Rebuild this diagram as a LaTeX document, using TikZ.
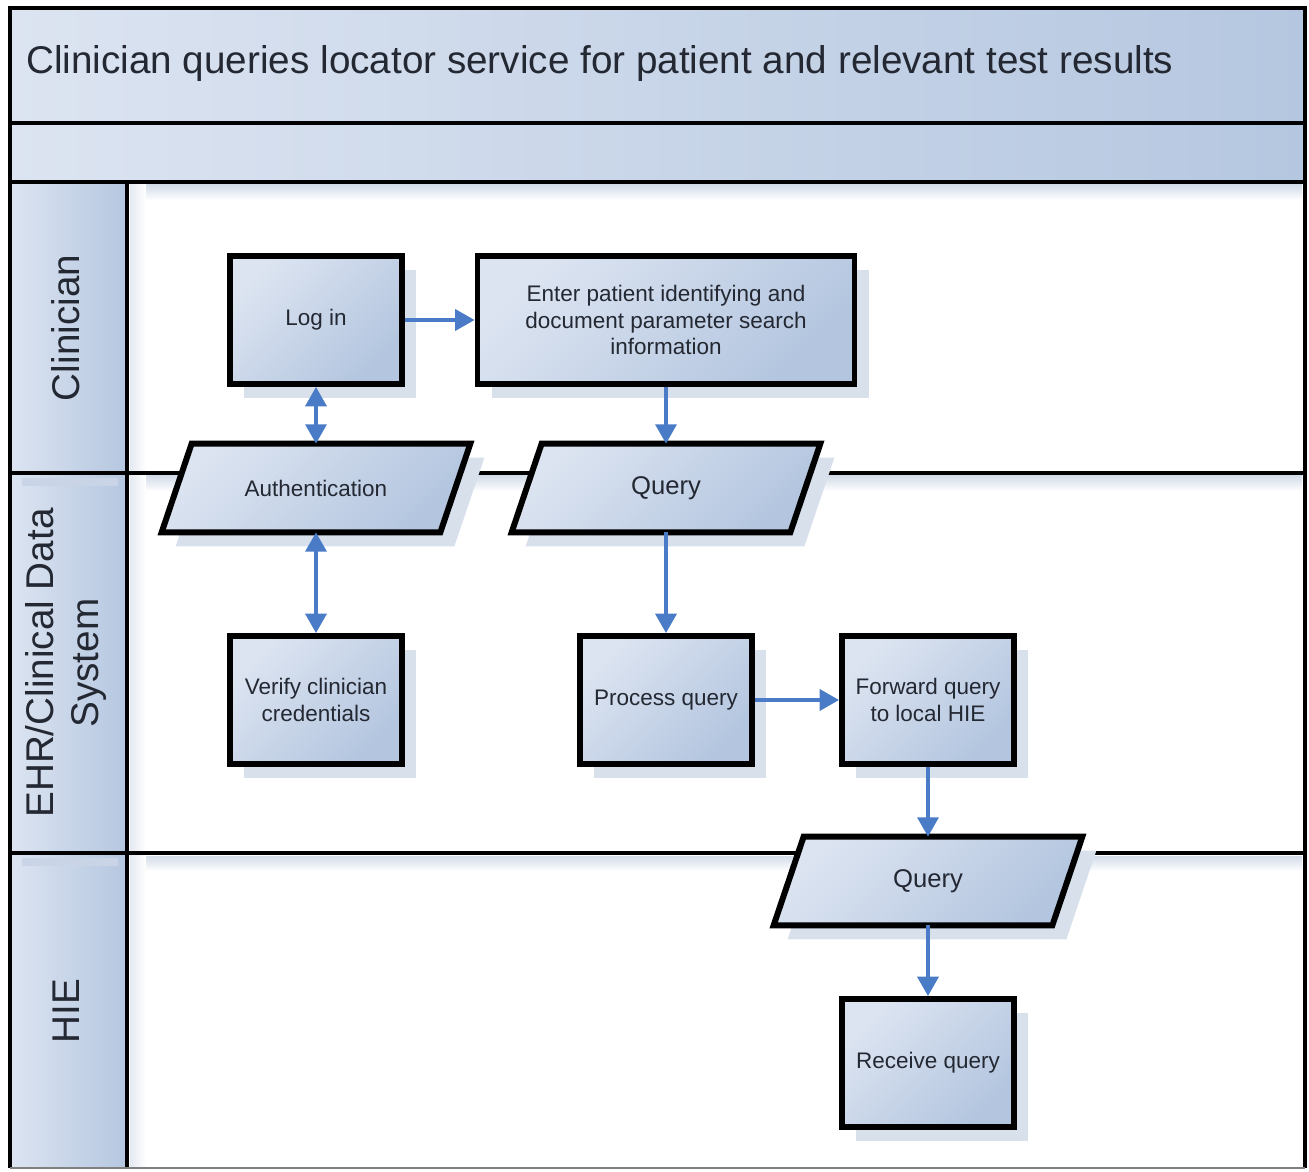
\documentclass[tikz,border=0pt]{standalone}
\usepackage{fontspec}
\setmainfont{Liberation Sans}
\usetikzlibrary{arrows.meta,shadows,calc}
\pgfdeclarelayer{bg}
\pgfdeclarelayer{mid}
\pgfsetlayers{bg,mid,main}

\definecolor{bandL}{HTML}{DCE4F1}
\definecolor{bandR}{HTML}{B5C7E0}
\definecolor{boxL}{HTML}{DCE4F1}
\definecolor{boxR}{HTML}{B3C5DF}
\definecolor{shadowc}{HTML}{D8E0EC}
\definecolor{stripc}{HTML}{D3DCE9}
\definecolor{arrowc}{HTML}{4A7BC6}
\definecolor{inkc}{HTML}{232832}

\tikzset{
  frame/.style={draw=black, line width=2.8pt},
  boxfill/.style={top color=boxL, bottom color=boxR, shading angle=45},
  procbox/.style={draw=black, line width=3.4pt, boxfill,
    minimum width=172*0.02cm, minimum height=128*0.02cm, align=center,
    text=inkc, font=\fontsize{12.8}{15.3}\selectfont,
    drop shadow={shadow xshift=0.28cm, shadow yshift=-0.28cm, fill=shadowc, opacity=1}},
  paratext/.style={draw=none, minimum width=278*0.02cm, minimum height=88*0.02cm,
    text=inkc, align=center},
  paraoutline/.style={draw=black, line width=3.4pt, line join=miter, boxfill},
  lanelabel/.style={rotate=90, text=inkc, align=center, font=\fontsize{22}{26}\selectfont},
  tip/.style={},
  flow/.style={draw=arrowc, line width=1.8pt, -{Triangle[length=11pt,width=12pt]}},
  flow2/.style={draw=arrowc, line width=1.8pt, {Triangle[length=11pt,width=12pt]}-{Triangle[length=11pt,width=12pt]}}
}

% slanted data box drawn around a named text node
\newcommand\paraframe[1]{%
  \begin{pgfonlayer}{mid}
    \fill[shadowc] ($(#1.north west)+(29,14)$) -- ($(#1.north east)+(29,14)$)
      -- ($(#1.south east)+(-1,14)$) -- ($(#1.south west)+(-1,14)$) -- cycle;
    \path[paraoutline] ($(#1.north west)+(15,0)$) -- ($(#1.north east)+(15,0)$)
      -- ($(#1.south east)+(-15,0)$) -- ($(#1.south west)+(-15,0)$) -- cycle;
  \end{pgfonlayer}}

\begin{document}
\begin{tikzpicture}[x=0.02cm, y=-0.02cm]
\useasboundingbox (0,0) rectangle (1309,1172);

% ---------- pool and lanes ----------
\begin{pgfonlayer}{bg}
  \fill[white] (0,0) rectangle (1309,1172);
  \shade[left color=bandL, right color=bandR] (10,8) rectangle (1305,123);
  \shade[left color=bandL, right color=bandR] (10,123) rectangle (1305,182);
  \shade[left color=bandL, right color=bandR] (10,182) rectangle (127,1168);
  % soft strips along the lane borders
  \shade[top color=stripc, bottom color=white] (130,185) rectangle (1302,200);
  \shade[top color=stripc, bottom color=white] (130,476) rectangle (1302,491);
  \shade[top color=stripc, bottom color=white] (130,856) rectangle (1302,871);
  \shade[left color=stripc!60, right color=white] (130,185) rectangle (146,1166);
  \fill[stripc!70!boxR] (22,478) rectangle (118,486);
  \fill[stripc!70!boxR] (22,858) rectangle (118,866);
  % lane borders
  \draw[frame] (10,123) -- (1305,123);
  \draw[frame] (10,182) -- (1305,182);
  \draw[frame] (10,473) -- (1305,473);
  \draw[frame] (10,853) -- (1305,853);
  \draw[frame] (127,182) -- (127,1168);
  \draw[frame] (10,1168) -- (10,8) -- (1305,8) -- (1305,1168);
  \draw[gray, line width=1pt] (10,1168) -- (1305,1168);
\end{pgfonlayer}

\node[anchor=west, text=inkc, font=\fontsize{22}{26}\selectfont] (title) at (20,64)
  {Clinician queries locator service for patient and relevant test results};

\node[lanelabel] (laneA) at (66,328) {Clinician};
\node[lanelabel] (laneB) at (66,663) {EHR/Clinical Data\\System};
\node[lanelabel] (laneC) at (66,1011) {HIE};

% ---------- steps ----------
\node[procbox] (login) at (316,320) {Log in};
\node[procbox, minimum width=377*0.02cm] (enter) at (666,320)
  {Enter patient identifying and\\document parameter search\\information};
\node[paratext, font=\fontsize{12.8}{15.3}\selectfont] (auth) at (316,488) {Authentication};
\node[paratext, font=\fontsize{14.6}{17}\selectfont] (query1) at (666,488) {Query};
\paraframe{auth}
\paraframe{query1}
\node[procbox] (verify) at (316,700) {Verify clinician\\credentials};
\node[procbox] (process) at (666,700) {Process query};
\node[procbox] (forward) at (928,700) {Forward query\\to local HIE};
\node[paratext, font=\fontsize{14.6}{17}\selectfont] (query2) at (928,881) {Query};
\paraframe{query2}
\node[procbox] (receive) at (928,1063) {Receive query};

% ---------- connectors ----------
\draw[flow] (login.east) -- (enter.west);
\draw[flow2] (login.south) -- (auth.north);
\draw[flow] (enter.south) -- (query1.north);
\draw[flow2] (auth.south) -- (verify.north);
\draw[flow] (query1.south) -- (process.north);
\draw[flow] (process.east) -- (forward.west);
\draw[flow] (forward.south) -- (query2.north);
\draw[flow] (query2.south) -- (receive.north);
\end{tikzpicture}
\end{document}
